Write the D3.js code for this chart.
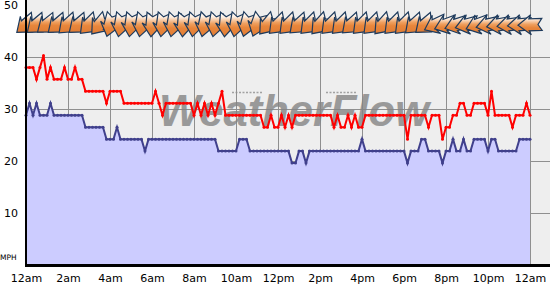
<!DOCTYPE html>
<html>
<head>
<meta charset="utf-8">
<script src="https://cdn.jsdelivr.net/npm/d3@7"></script>
<style>
  body { margin: 0; background: #fff; }
  svg { display: block; font-family: "DejaVu Sans", Verdana, sans-serif; }
</style>
</head>
<body>
<div id="vis"></div>
<script>
// samples every 10 minutes, 12am to 12am (145 points)
var stepHours = 1 / 6;

// average wind, mph
var avgWind = [
  28.8, 31.1, 28.8, 31.1, 28.8, 28.8, 28.8, 31.1, 28.8, 28.8,
  28.8, 28.8, 28.8, 28.8, 28.8, 28.8, 28.8, 26.5, 26.5, 26.5,
  26.5, 26.5, 26.5, 24.2, 24.2, 24.2, 26.5, 24.2, 24.2, 24.2,
  24.2, 24.2, 24.2, 24.2, 21.9, 24.2, 24.2, 24.2, 24.2, 24.2,
  24.2, 24.2, 24.2, 24.2, 24.2, 24.2, 24.2, 24.2, 24.2, 24.2,
  24.2, 24.2, 24.2, 24.2, 24.2, 21.9, 21.9, 21.9, 21.9, 21.9,
  21.9, 24.2, 24.2, 24.2, 21.9, 21.9, 21.9, 21.9, 21.9, 21.9,
  21.9, 21.9, 21.9, 21.9, 21.9, 21.9, 19.6, 19.6, 21.9, 21.9,
  19.6, 21.9, 21.9, 21.9, 21.9, 21.9, 21.9, 21.9, 21.9, 21.9,
  21.9, 21.9, 21.9, 21.9, 21.9, 21.9, 24.2, 21.9, 21.9, 21.9,
  21.9, 21.9, 21.9, 21.9, 21.9, 21.9, 21.9, 21.9, 21.9, 19.6,
  21.9, 21.9, 21.9, 24.2, 24.2, 21.9, 21.9, 21.9, 21.9, 19.6,
  21.9, 21.9, 24.2, 21.9, 21.9, 24.2, 21.9, 21.9, 24.2, 24.2,
  24.2, 24.2, 21.9, 24.2, 24.2, 21.9, 21.9, 21.9, 21.9, 21.9,
  21.9, 24.2, 24.2, 24.2, 24.2
];

// gusts, mph
var gustWind = [
  38.0, 38.0, 38.0, 35.7, 38.0, 40.3, 35.7, 38.0, 35.7, 35.7,
  35.7, 38.0, 35.7, 35.7, 38.0, 35.7, 35.7, 33.4, 33.4, 33.4,
  33.4, 33.4, 33.4, 31.1, 33.4, 33.4, 33.4, 33.4, 31.1, 31.1,
  31.1, 31.1, 31.1, 31.1, 31.1, 31.1, 31.1, 33.4, 31.1, 28.8,
  31.1, 31.1, 31.1, 31.1, 31.1, 31.1, 31.1, 31.1, 28.8, 31.1,
  28.8, 31.1, 28.8, 31.1, 28.8, 31.1, 33.4, 28.8, 28.8, 28.8,
  28.8, 28.8, 28.8, 28.8, 28.8, 28.8, 28.8, 28.8, 26.5, 26.5,
  28.8, 26.5, 26.5, 28.8, 26.5, 28.8, 26.5, 28.8, 28.8, 28.8,
  28.8, 28.8, 28.8, 28.8, 28.8, 28.8, 28.8, 28.8, 26.5, 28.8,
  26.5, 26.5, 28.8, 26.5, 28.8, 26.5, 26.5, 28.8, 28.8, 28.8,
  28.8, 28.8, 28.8, 28.8, 28.8, 28.8, 28.8, 28.8, 28.8, 24.2,
  28.8, 28.8, 28.8, 28.8, 28.8, 26.5, 28.8, 28.8, 28.8, 24.2,
  26.5, 26.5, 28.8, 28.8, 31.1, 31.1, 28.8, 28.8, 31.1, 31.1,
  31.1, 31.1, 28.8, 33.4, 28.8, 28.8, 28.8, 28.8, 28.8, 26.5,
  28.8, 28.8, 28.8, 31.1, 28.8
];

// wind direction (compass degrees the wind comes from), every 30 minutes
var arrowStepHours = 0.5;
var windDir = [
  50, 50, 52, 50, 48, 50, 45, 40,
  15, 10, 8, 10, 5, 8, 10, 5, 8, 12, 10, 5, 10, 15, 20,
  40, 45, 45, 48, 45, 42, 45, 45, 48, 45, 45, 42, 45, 45, 48, 50,
  65, 70, 72, 75, 70, 78, 80, 82, 85, 88
];
var arrowMph = 46.2;

var hourTicks = [0, 2, 4, 6, 8, 10, 12, 14, 16, 18, 20, 22, 24];
var hourLabels = ["12am", "2am", "4am", "6am", "8am", "10am", "12pm",
                  "2pm", "4pm", "6pm", "8pm", "10pm", "12am"];
var mphTicks = [10, 20, 30, 40, 50];

var W = 550, H = 285;
var left = 26, right = 530, bottom = 265;

var svg = d3.select("#vis").append("svg")
  .attr("width", W)
  .attr("height", H);

var x = d3.scaleLinear().domain([0, 24]).range([left, right]);
var y = d3.scaleLinear().domain([0, 50]).range([bottom, 5]);

// plot background
svg.append("rect")
  .attr("x", left).attr("y", 0)
  .attr("width", W - left).attr("height", bottom)
  .attr("fill", "#eeeeee");

// grid
svg.append("g")
  .attr("class", "grid x")
  .attr("transform", "translate(0," + bottom + ")")
  .call(d3.axisBottom(x).tickValues(hourTicks).tickSize(-bottom).tickFormat(""))
  .call(function(g) { g.select(".domain").remove(); })
  .selectAll("line").attr("stroke", "#8f8f8f");

svg.append("g")
  .attr("class", "grid y")
  .attr("transform", "translate(" + left + ",0)")
  .call(d3.axisLeft(y).tickValues([10, 20, 30, 40]).tickSize(-(W - left)).tickFormat(""))
  .call(function(g) { g.select(".domain").remove(); })
  .selectAll("line").attr("stroke", "#8f8f8f");

// watermark
var wm = svg.append("g").attr("opacity", 0.8);
wm.append("text")
  .attr("x", 159).attr("y", 126)
  .attr("textLength", 270)
  .attr("lengthAdjust", "spacingAndGlyphs")
  .style("font-family", "'Liberation Sans', Arial, sans-serif")
  .style("font-weight", "bold")
  .style("font-style", "italic")
  .style("font-size", "45px")
  .attr("fill", "#858585")
  .text("WeatherFlow");
wm.selectAll("line.dash")
  .data([[232, 262], [326, 357]])
  .enter().append("line")
  .attr("x1", function(d) { return d[0]; })
  .attr("x2", function(d) { return d[1]; })
  .attr("y1", 92.5).attr("y2", 92.5)
  .attr("stroke", "#909090")
  .attr("stroke-width", 1.5)
  .attr("stroke-dasharray", "2,1.5");

var avgData = avgWind.map(function(v, i) { return {t: i * stepHours, v: v}; });
var gustData = gustWind.map(function(v, i) { return {t: i * stepHours, v: v}; });

// average area
var area = d3.area()
  .x(function(d) { return x(d.t); })
  .y0(y(0))
  .y1(function(d) { return y(d.v); });

svg.append("path")
  .datum(avgData)
  .attr("d", area)
  .attr("fill", "#ccccff");

var line = d3.line()
  .x(function(d) { return x(d.t); })
  .y(function(d) { return y(d.v); });

function drawSeries(data, color) {
  svg.append("path")
    .datum(data)
    .attr("d", line)
    .attr("fill", "none")
    .attr("stroke", color)
    .attr("stroke-width", 2);
  svg.append("g").selectAll("circle")
    .data(data)
    .enter().append("circle")
    .attr("cx", function(d) { return x(d.t); })
    .attr("cy", function(d) { return y(d.v); })
    .attr("r", 1.5)
    .attr("fill", color);
}
drawSeries(avgData, "#40408c");
drawSeries(gustData, "#ff0000");

// wind arrows
var defs = svg.append("defs");
var grad = defs.append("linearGradient")
  .attr("id", "arrowGrad")
  .attr("x1", 0).attr("y1", 0).attr("x2", 0).attr("y2", 1);
grad.append("stop").attr("offset", "0%").attr("stop-color", "#ffffff");
grad.append("stop").attr("offset", "20%").attr("stop-color", "#fdf0e4");
grad.append("stop").attr("offset", "48%").attr("stop-color", "#efa060");
grad.append("stop").attr("offset", "65%").attr("stop-color", "#e8863b");
grad.append("stop").attr("offset", "100%").attr("stop-color", "#e07c34");

// arrow outline pointing +x, rotated per direction
var arrowShape = [[-12, -6], [1, -6], [-1, -10], [12, 0], [-1, 10], [1, 6], [-12, 6], [-8, 0]];

svg.append("g").selectAll("path")
  .data(windDir)
  .enter().append("path")
  .attr("d", function(dir, i) {
    var cx = x(i * arrowStepHours), cy = y(arrowMph);
    var a = (dir + 90) * Math.PI / 180;
    var c = Math.cos(a), s = Math.sin(a);
    return "M" + arrowShape.map(function(p) {
      return [(cx + p[0] * c - p[1] * s).toFixed(2), (cy + p[0] * s + p[1] * c).toFixed(2)].join(",");
    }).join("L") + "Z";
  })
  .attr("fill", "url(#arrowGrad)")
  .attr("stroke", "#1d3a5c")
  .attr("stroke-width", 1.2)
  .attr("stroke-linejoin", "miter");

// axes
svg.append("g")
  .attr("class", "x axis")
  .attr("transform", "translate(0," + bottom + ")")
  .call(d3.axisBottom(x).tickValues(hourTicks).tickSize(0).tickPadding(9)
    .tickFormat(function(d, i) { return hourLabels[i]; }))
  .call(function(g) {
    g.select(".domain").remove();
    g.selectAll("text").attr("fill", "#000").style("font-size", "11px")
      .style("font-family", "'DejaVu Sans', Verdana, sans-serif");
  });

svg.append("g")
  .attr("class", "y axis")
  .attr("transform", "translate(" + left + ",0)")
  .call(d3.axisLeft(y).tickValues(mphTicks).tickSize(0).tickPadding(8))
  .call(function(g) {
    g.select(".domain").remove();
    g.selectAll("text").attr("fill", "#000").style("font-size", "11px")
      .style("font-family", "'DejaVu Sans', Verdana, sans-serif");
  });

svg.append("line")
  .attr("x1", left).attr("x2", left)
  .attr("y1", 0).attr("y2", bottom)
  .attr("stroke", "#000").attr("stroke-width", 2);

svg.append("line")
  .attr("x1", left - 1).attr("x2", W)
  .attr("y1", bottom + 0.5).attr("y2", bottom + 0.5)
  .attr("stroke", "#000").attr("stroke-width", 3);

svg.append("text")
  .attr("x", 0).attr("y", 259.5)
  .style("font-size", "7.5px")
  .text("MPH");
</script>
</body>
</html>
